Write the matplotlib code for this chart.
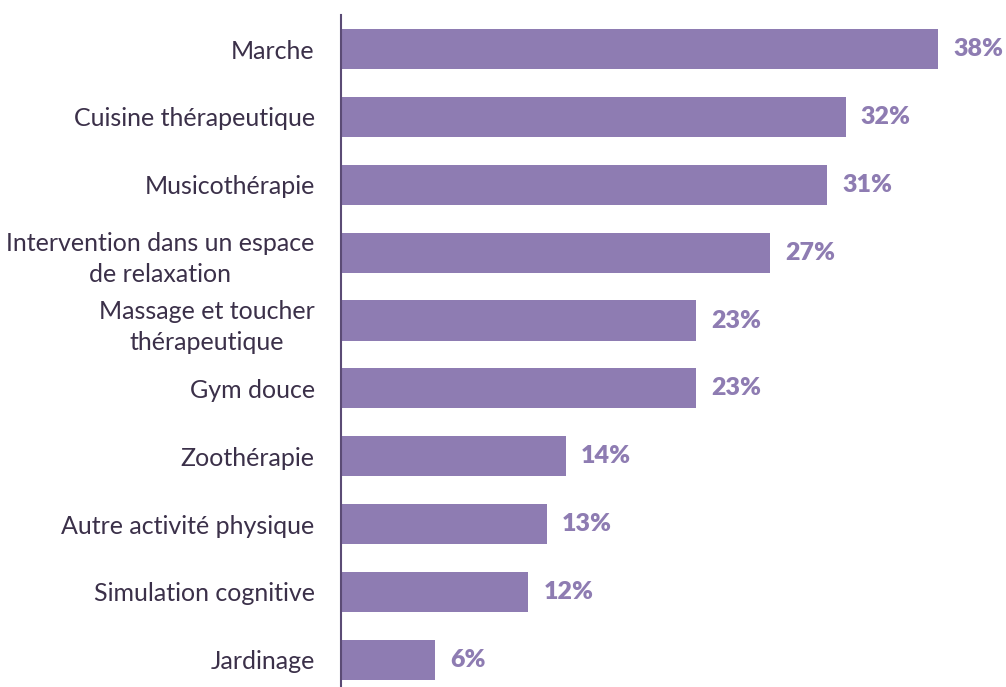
import matplotlib.pyplot as plt

# data (bar lengths, labels as printed)
categories = [
    "Marche",
    "Cuisine thérapeutique",
    "Musicothérapie",
    "Intervention dans un espace\nde relaxation",
    "Massage et toucher\nthérapeutique",
    "Gym douce",
    "Zoothérapie",
    "Autre activité physique",
    "Simulation cognitive",
    "Jardinage",
]
values = [38.0, 32.1, 30.9, 27.3, 22.6, 22.6, 14.3, 13.1, 11.9, 6.0]
value_labels = ["38%", "32%", "31%", "27%", "23%", "23%", "14%", "13%", "12%", "6%"]

bar_color = "#8e7cb2"
text_color = "#3b3049"
axis_color = "#5b4b75"

fig = plt.figure(figsize=(10.06, 6.87), dpi=100)
ax = fig.add_axes([0.339, 0.0, 0.661, 0.978])

pos = list(range(len(categories)))
ax.barh(pos, values, height=0.59, color=bar_color)

for p, v, lab in zip(pos, values, value_labels):
    ax.annotate(lab, xy=(v, p), xytext=(11, 0), textcoords="offset points",
                ha="left", va="center", fontsize=18, fontweight="heavy",
                color=bar_color, family="Lato")

ax.set_ylim(9.4, -0.5)
ax.set_xlim(0, 42.3)
ax.set_yticks(pos)
ax.set_yticklabels(categories, fontsize=18, color=text_color, family="Lato",
                   multialignment="center", linespacing=1.45)
ax.tick_params(axis="y", length=0, pad=19)
ax.set_xticks([])

for side in ["top", "right", "bottom"]:
    ax.spines[side].set_visible(False)
ax.spines["left"].set_color(axis_color)
ax.spines["left"].set_linewidth(1.5)

fig.savefig("out.png", dpi=100)
